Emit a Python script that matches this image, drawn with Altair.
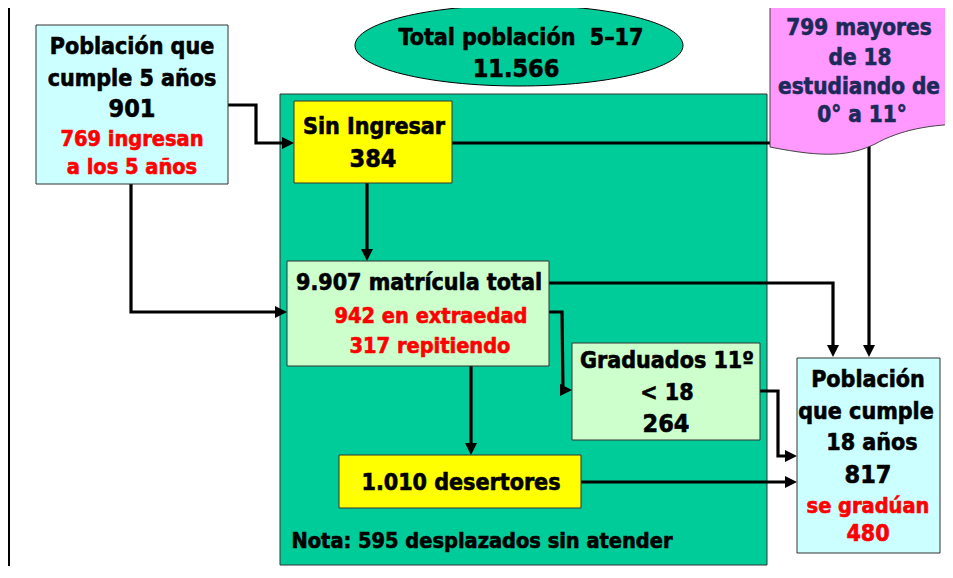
import altair as alt
import pandas as pd

# ---------------- data ----------------
# boxes (image pixel coordinates)
box_name = ["main", "left5", "sin", "matric", "grad", "desert", "pob18"]
box_x1 = [280, 36, 294, 287, 572, 339, 797]
box_x2 = [767, 228, 452, 549, 760, 581, 940]
box_y1 = [94, 25, 101, 261, 343, 455, 358]
box_y2 = [565, 184, 183, 366, 440, 508, 553]
box_kind = ["green", "cyan", "yellow", "mint", "mint", "yellow", "cyan"]

# connectors: polyline vertices
conn_id = [1, 1, 1, 1,
           2, 2, 2,
           3, 3,
           4, 4, 4,
           5, 5, 5,
           6, 6, 6, 6,
           7, 7,
           8, 8, 8, 8,
           9, 9]
conn_x = [228, 256, 256, 286,
          131, 131, 279,
          367, 367,
          452, 869, 869,
          549, 833, 833,
          549, 562, 563, 566,
          471, 471,
          760, 778, 778, 791,
          581, 791]
conn_y = [105, 105, 143, 143,
          184, 312, 312,
          183, 253,
          143, 143, 349,
          283, 283, 349,
          312, 312, 390, 390,
          366, 447,
          391, 391, 456, 456,
          482, 482]

# arrow tips
arrow_x = [294, 287, 367, 869, 833, 572, 471, 797, 797]
arrow_y = [143, 312, 261, 357, 357, 390, 455, 456, 482]
arrow_dir = ["r", "r", "d", "d", "d", "r", "d", "r", "r"]

# ellipse and document shape anchors
ellipse_x = [519]
ellipse_y = [45.5]
doc_x = [770]
doc_y = [6]

# text lines
txt = ["Población que", "cumple 5 años", "901", "769 ingresan", "a los 5 años",
       "Total población\u00a0 5–17", "11.566",
       "Sin Ingresar", "384",
       "9.907 matrícula total", "942 en extraedad", "317 repitiendo",
       "Graduados 11º", "< 18", "264",
       "1.010 desertores",
       "Nota: 595 desplazados sin atender",
       "Población", "que cumple", "18 años", "817", "se gradúan", "480",
       "799 mayores", "de 18", "estudiando de", "0° a 11°"]
txt_x = [132, 132, 132, 132, 132,
         521, 516,
         374, 373,
         419, 431, 430,
         667, 667, 666,
         461,
         482,
         868, 866, 872, 868, 868, 868,
         859, 860, 859, 862]
txt_y = [47, 79, 110, 140, 168,
         38, 70,
         127, 160,
         283, 317, 347,
         361, 393, 425,
         483,
         542,
         380, 412, 443, 476, 507, 534,
         28, 58, 87, 115]
txt_kind = ["black", "black", "num", "red", "red",
            "black", "num",
            "black", "num",
            "black", "red", "red",
            "black", "black", "num",
            "black",
            "note",
            "black", "black", "black", "num", "red", "rednum",
            "navy", "navy", "navy", "navy"]

# ---------------- styles ----------------
FONT = "DejaVu Sans Condensed, DejaVu Sans"
FS = 0.96
fill_map = {"green": "#00CC99", "cyan": "#CCFFFF", "yellow": "#FFFF00", "mint": "#CCFFCC"}
text_style = {"black": (24, "#000000"), "num": (26, "#000000"), "red": (22.5, "#FF0000"),
              "rednum": (24, "#FF0000"), "note": (22.5, "#000000"), "navy": (23.3, "#1C2A5A")}

boxes = pd.DataFrame({"name": box_name, "x1": box_x1, "x2": box_x2, "y1": box_y1, "y2": box_y2,
                      "fill": [fill_map[k] for k in box_kind]})
conns = pd.DataFrame({"id": conn_id, "x": conn_x, "y": conn_y,
                      "seq": list(range(len(conn_id)))})
arrows = pd.DataFrame({"x": arrow_x, "y": arrow_y, "dir": arrow_dir})
texts = pd.DataFrame({"x": txt_x, "y": txt_y, "t": txt,
                      "size": [text_style[k][0] * FS for k in txt_kind],
                      "color": [text_style[k][1] for k in txt_kind]})
ell = pd.DataFrame({"x": ellipse_x, "y": ellipse_y})
doc = pd.DataFrame({"x": doc_x, "y": doc_y})
border = pd.DataFrame({"x": [9], "y": [8], "y2": [566]})

W, H = 937, 558
xs = alt.Scale(domain=[8, 8 + W], nice=False, zero=False)
ys = alt.Scale(domain=[8, 8 + H], reverse=True, nice=False, zero=False)
X = lambda f="x": alt.X(f"{f}:Q", scale=xs, axis=None)
Y = lambda f="y": alt.Y(f"{f}:Q", scale=ys, axis=None)

border_l = alt.Chart(border).mark_rule(color="black", strokeWidth=2).encode(
    x=X(), y=Y(), y2="y2:Q")

main_l = alt.Chart(boxes).transform_filter(alt.datum.name == "main").mark_rect(
    stroke="#333333", strokeWidth=1).encode(
    x=X("x1"), x2="x2:Q", y=Y("y1"), y2="y2:Q", fill=alt.Fill("fill:N", scale=None))

inner_l = alt.Chart(boxes).transform_filter(alt.datum.name != "main").mark_rect(
    stroke="#333333", strokeWidth=1).encode(
    x=X("x1"), x2="x2:Q", y=Y("y1"), y2="y2:Q", fill=alt.Fill("fill:N", scale=None))

lines_l = alt.Chart(conns).mark_line(color="black", strokeWidth=3.2, strokeJoin="miter",
                                     strokeCap="butt").encode(
    x=X(), y=Y(), detail="id:N", order="seq:Q")

ARROW_R = "M0,0 L-12,-6 L-12,6 Z"
ARROW_D = "M0,0 L-6,-12 L6,-12 Z"
arr_r = alt.Chart(arrows).transform_filter(alt.datum.dir == "r").mark_point(
    shape=ARROW_R, size=4, filled=True, color="black", opacity=1).encode(x=X(), y=Y())
arr_d = alt.Chart(arrows).transform_filter(alt.datum.dir == "d").mark_point(
    shape=ARROW_D, size=4, filled=True, color="black", opacity=1).encode(x=X(), y=Y())

ELLIPSE = ("M-164,0 C-164,-22.4 -90.6,-40.5 0,-40.5 C90.6,-40.5 164,-22.4 164,0 "
           "C164,22.4 90.6,40.5 0,40.5 C-90.6,40.5 -164,22.4 -164,0 Z")
ell_l = alt.Chart(ell).mark_point(shape=ELLIPSE, size=4, filled=True, color="#00CC99",
                                  stroke="#000000", strokeWidth=1, opacity=1).encode(x=X(), y=Y())

DOC = "M0,0 L200,0 L200,118 C160,118 130,124 105,138 C80,150 55,152 0,141 Z"
doc_l = alt.Chart(doc).mark_point(shape=DOC, size=4, filled=True, color="#FF99FF",
                                  stroke="#444444", strokeWidth=1, opacity=1).encode(x=X(), y=Y())

text_l = alt.Chart(texts).mark_text(font=FONT, fontWeight="bold", baseline="middle",
                                    align="center", strokeWidth=0.6).encode(
    x=X(), y=Y(), text="t:N",
    size=alt.Size("size:Q", scale=None),
    color=alt.Color("color:N", scale=None),
    stroke=alt.Stroke("color:N", scale=None))

chart = alt.layer(border_l, main_l, lines_l, arr_r, arr_d, inner_l, ell_l, doc_l, text_l).properties(
    width=W, height=H, padding=0, autosize=alt.AutoSizeParams(type="none"),
    background="white").configure_view(stroke=None)

chart.save("out.html", embed_options={"renderer": "svg", "actions": False})
